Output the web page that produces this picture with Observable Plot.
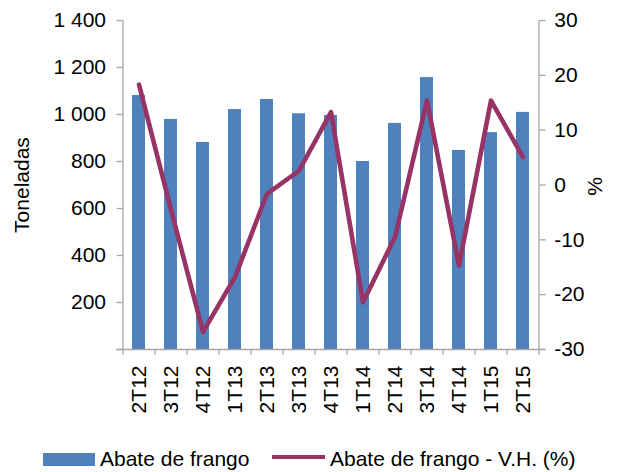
<!DOCTYPE html>
<html><head><meta charset="utf-8">
<script src="https://cdn.jsdelivr.net/npm/d3@7"></script>
<script src="https://cdn.jsdelivr.net/npm/@observablehq/plot@0.6"></script>
<style>
body{margin:0;background:#fff;font-family:"Liberation Sans",Arial,sans-serif;}
#chart{position:relative;width:617px;height:472px;overflow:hidden;}
.lg{position:absolute;font-size:21px;line-height:24px;height:24px;color:#000;white-space:nowrap;}
.sw{position:absolute;}
</style></head><body>
<div id="chart"></div>
<script>
const quarters = ["2T12","3T12","4T12","1T13","2T13","3T13","4T13","1T14","2T14","3T14","4T14","1T15","2T15"];
const tonnes = [1081, 979, 881, 1021, 1064, 1003, 996, 800, 962, 1157, 847, 923, 1009];
const variation = [18.3, -4.5, -26.8, -16.8, -1.6, 2.6, 13.3, -21.4, -9.5, 15.4, -14.7, 15.4, 5.1];
const leftTicks = [0, 200, 400, 600, 800, 1000, 1200, 1400];
const rightTicks = [-30, -20, -10, 0, 10, 20, 30];
const seriesNames = ["Abate de frango", "Abate de frango - V.H. (%)"];
const axisTitles = ["Toneladas", "%"];

const blue = "#4f81bd", plum = "#983465", axisGray = "#a6a6a6";
const W = 617, H = 430, mL = 122.5, mR = 78.3, mT = 20, mB = 81;
const step = (W - mL - mR) / quarters.length;
const rightMin = -30, rightMax = 30, leftMax = 1400;
const toLeft = v => (v - rightMin) / (rightMax - rightMin) * leftMax;
const fromLeft = d => Math.round(d / leftMax * (rightMax - rightMin) + rightMin);

const bars = quarters.map((q, i) => ({q, t: tonnes[i]}));
const pts = quarters.map((q, i) => ({q, v: variation[i]}));
const fmt = d3.formatLocale({thousands: " ", grouping: [3], decimal: ","}).format(",d");

const plot = Plot.plot({
  width: W, height: H,
  marginLeft: mL, marginRight: mR, marginTop: mT, marginBottom: mB,
  style: {fontFamily: '"Liberation Sans", Arial, sans-serif', fontSize: "21px", color: "#000", background: "#fff"},
  x: {type: "band", domain: quarters, paddingInner: 0.6, paddingOuter: 0.3},
  y: {domain: [0, leftMax]},
  marks: [
    Plot.barY(bars, {x: "q", y: "t", fill: blue}),
    Plot.ruleX([quarters[0]], {dx: -step / 2, stroke: axisGray, strokeWidth: 1.3}),
    Plot.ruleX([quarters[quarters.length - 1]], {dx: step / 2, stroke: axisGray, strokeWidth: 1.3}),
    Plot.ruleY([0], {stroke: axisGray, strokeWidth: 1.3, insetLeft: -6, insetRight: -6}),
    Plot.ruleX(quarters, {x: d => d, dx: -step / 2, y1: 0, y2: 0, insetBottom: -6, stroke: axisGray, strokeWidth: 1.3}),
    Plot.ruleX([quarters[quarters.length - 1]], {x: d => d, dx: step / 2, y1: 0, y2: 0, insetBottom: -6, stroke: axisGray, strokeWidth: 1.3}),
    Plot.axisY(leftTicks, {anchor: "left", tickSize: 6, tickPadding: 11, stroke: axisGray, strokeWidth: 1.3, fill: "#000",
      tickFormat: d => d === 0 ? "" : fmt(d), label: null, fontSize: 21}),
    Plot.axisY(rightTicks.map(toLeft), {anchor: "right", tickSize: 6, tickPadding: 9, stroke: axisGray, strokeWidth: 1.3, fill: "#000",
      tickFormat: d => String(fromLeft(d)), label: null, fontSize: 21}),
    Plot.axisX({tickRotate: -90, tickSize: 0, tickPadding: 16, label: null, fill: "#000", fontSize: 21}),
    Plot.line(pts, {x: "q", y: d => toLeft(d.v), stroke: plum, strokeWidth: 4.6}),
    Plot.text([axisTitles[0]], {frameAnchor: "left", textAnchor: "middle", dx: -101, rotate: -90, fill: "#000", fontSize: 21}),
    Plot.text([axisTitles[1]], {frameAnchor: "right", textAnchor: "middle", dx: 56, dy: 1.5, rotate: -90, fill: "#000", fontSize: 21})
  ]
});
const chart = document.getElementById("chart");
chart.appendChild(plot);

function add(cls, css, text) {
  const el = document.createElement("div");
  el.className = cls;
  Object.assign(el.style, css);
  if (text) el.textContent = text;
  chart.appendChild(el);
}
add("sw", {left: "42.7px", top: "452.7px", width: "52.6px", height: "13px", background: blue});
add("lg", {left: "100px", top: "447px"}, seriesNames[0]);
add("sw", {left: "271.7px", top: "454.8px", width: "53.3px", height: "4.6px", background: plum});
add("lg", {left: "330px", top: "447px"}, seriesNames[1]);
</script>
</body></html>
